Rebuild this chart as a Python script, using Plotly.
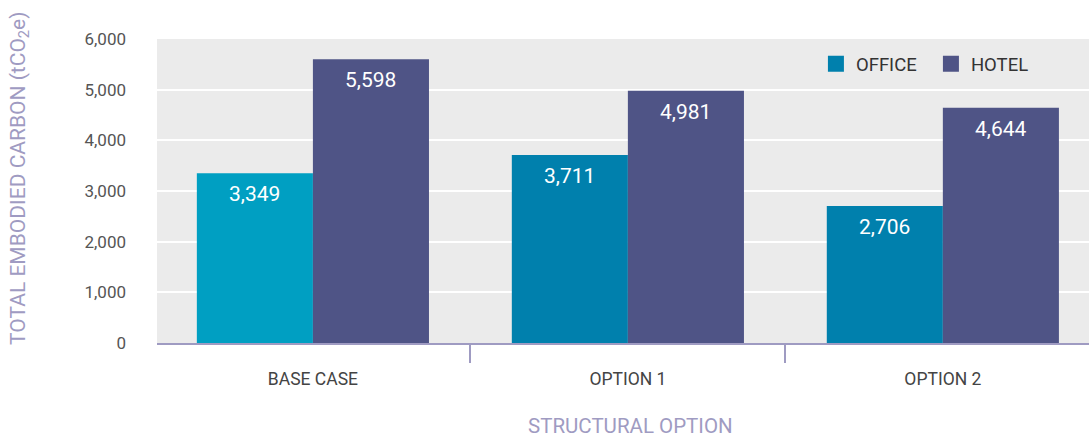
import plotly.graph_objects as go

# data
options = ["BASE CASE", "OPTION 1", "OPTION 2"]
office = [3349, 3711, 2706]
hotel = [5598, 4981, 4644]
office_colors = ["#009fc2", "#0080ad", "#0080ad"]
hotel_color = "#4f5486"
axis_col = "#9f9bc2"

fig = go.Figure()
fig.add_trace(go.Bar(x=options, y=office, name="OFFICE", marker_color=office_colors,
                     marker_line_width=0, showlegend=False))
fig.add_trace(go.Bar(x=options, y=hotel, name="HOTEL", marker_color=hotel_color,
                     marker_line_width=0, showlegend=False))

# legend entries (bigger squares)
fig.add_trace(go.Scatter(x=[None], y=[None], mode="markers", name="OFFICE",
                         marker=dict(symbol="square", size=16, color="#0080ad")))
fig.add_trace(go.Scatter(x=[None], y=[None], mode="markers", name="HOTEL",
                         marker=dict(symbol="square", size=16, color=hotel_color)))

# value labels inside bars
for vals, shift in [(office, -58), (hotel, 58)]:
    for cat, v in zip(options, vals):
        fig.add_annotation(x=cat, y=v, text=f"{v:,}", showarrow=False, xshift=shift,
                           yshift=-21, font=dict(family="Roboto", size=21, color="white"))

fig.add_annotation(xref="paper", yref="paper", x=0.508, y=-0.3158, text="STRUCTURAL OPTION",
                   xanchor="center", yanchor="bottom", borderpad=0, showarrow=False,
                   font=dict(family="Roboto", size=20.5, color=axis_col))
fig.add_annotation(xref="paper", yref="paper", x=-0.147, y=0.543, textangle=-90,
                   xanchor="center", yanchor="middle",
                   text="TOTAL EMBODIED CARBON (tCO<sub>2</sub>e)", showarrow=False,
                   font=dict(family="Roboto", size=21, color=axis_col))

fig.update_layout(
    width=1089, height=439,
    margin=dict(l=157, r=0, t=39, b=96),
    paper_bgcolor="white", plot_bgcolor="#ebebeb",
    barmode="group", bargap=0.263, bargroupgap=0,
    font=dict(family="Roboto", size=17, color="#444"),
    legend=dict(orientation="h", x=0.707, y=0.917, xanchor="left", yanchor="middle",
                bgcolor="rgba(0,0,0,0)", font=dict(size=18.5, color="#333"),
                itemwidth=30, entrywidth=70, entrywidthmode="pixels"),
    xaxis=dict(range=[-0.495, 2.464], showgrid=False, showline=True, linecolor=axis_col,
               linewidth=2, ticks="outside", tickson="boundaries", ticklen=18,
               tickcolor=axis_col, tickwidth=2, ticklabelstandoff=19, automargin=False,
               tickfont=dict(size=17.5, color="#444")),
    yaxis=dict(range=[0, 6000], dtick=1000, tickformat=",", gridcolor="white",
               gridwidth=1.5, zeroline=False, showline=False, ticklabelstandoff=30,
               automargin=False, tickfont=dict(size=17, color="#555")),
)

fig.write_html("out.html", config={"displayModeBar": False},
               post_script="document.body.style.margin='0';")
